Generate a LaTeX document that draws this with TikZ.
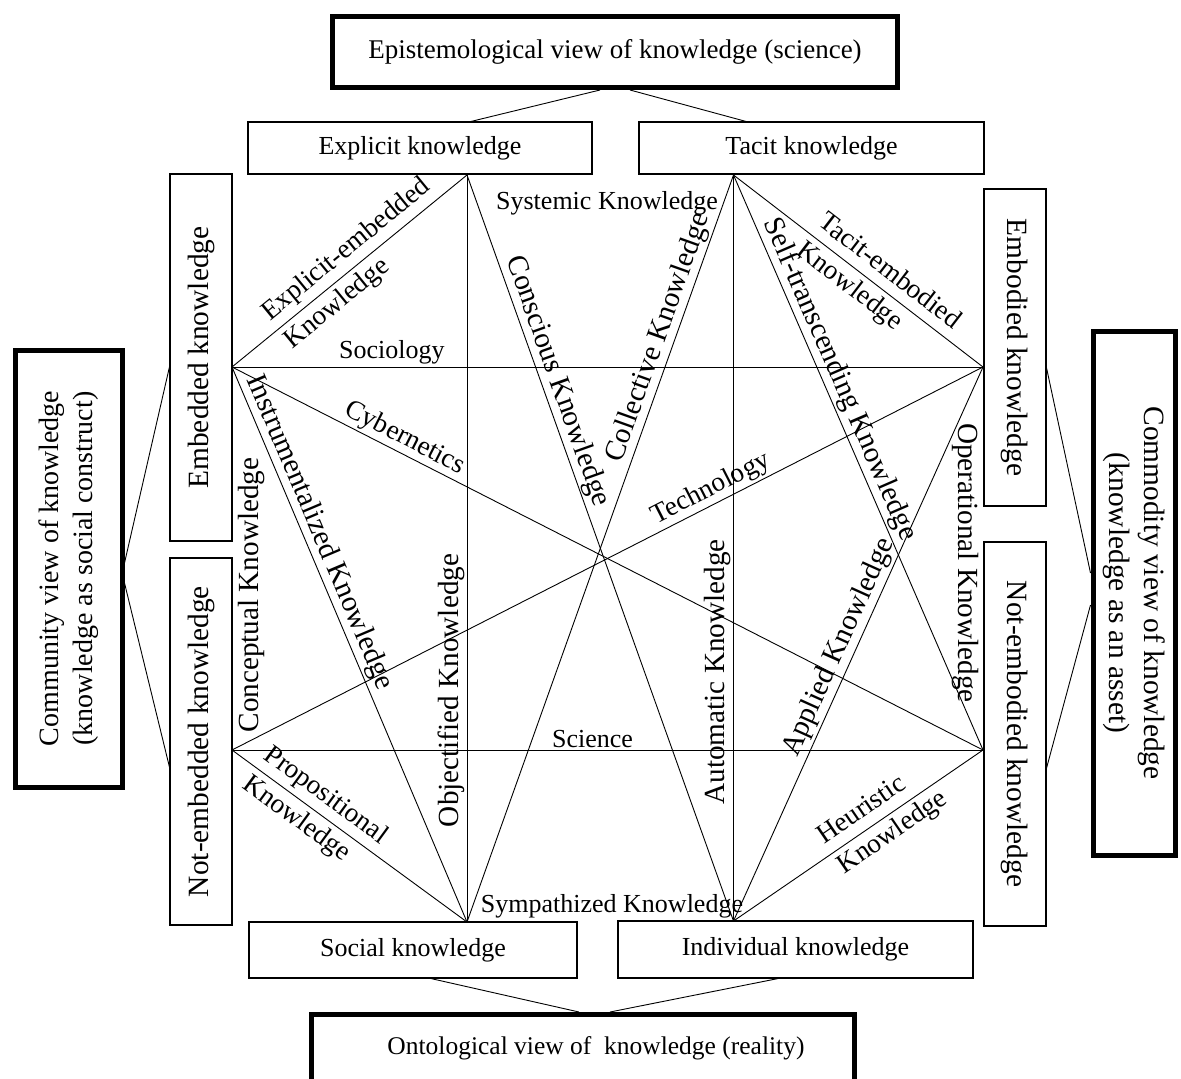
\documentclass[tikz,border=0pt]{standalone}
\usepackage{fontspec}
\setmainfont{Liberation Serif}
\begin{document}
\begin{tikzpicture}[
  x=1pt, y=1pt,
  box/.style={draw, line width=1.1pt, inner sep=0pt, font=\fontsize{26}{30}\selectfont},
  vbox/.style={box, font=\fontsize{29.4}{34}\selectfont},
  viewbox/.style={draw, line width=5pt, inner sep=0pt, align=center},
  link/.style={line width=0.9pt},
  lbl/.style={inner sep=2pt, font=\fontsize{26}{30}\selectfont},
  lblmid/.style={inner sep=2pt, font=\fontsize{27.4}{36}\selectfont},
  lblsteep/.style={inner sep=2pt, font=\fontsize{29.2}{34}\selectfont},
]
\useasboundingbox (0,0) rectangle (1181,-1079);
\clip (0,0) rectangle (1181,-1079);
% four views of knowledge
\node[viewbox, font=\fontsize{27}{32}\selectfont, minimum width=565pt, minimum height=71pt] (epi) at (615,-52) {Epistemological view of knowledge (science)};
\node[viewbox, rotate=90, font=\fontsize{28}{34}\selectfont, minimum width=437pt, minimum height=107pt] (comm) at (68.5,-568.5) {Community view of knowledge\\(knowledge as social construct)};
\node[viewbox, rotate=-90, font=\fontsize{29.4}{35}\selectfont, minimum width=524pt, minimum height=82pt] (cmdt) at (1134,-593) {Commodity view of knowledge\\(knowledge as an asset)};
\node[viewbox, font=\fontsize{25.5}{30}\selectfont, minimum width=543pt, minimum height=67pt] (onto) at (583,-1048) {\hspace*{26pt}Ontological view of\ \ knowledge (reality)};
% kinds of knowledge
\node[box, minimum width=344pt, minimum height=52pt] (expl) at (420,-148) {Explicit knowledge};
\node[box, minimum width=345pt, minimum height=52pt] (tac) at (811.5,-148) {Tacit knowledge};
\node[vbox, rotate=90, minimum width=367pt, minimum height=62pt] (embd) at (201,-357.5) {Embedded knowledge};
\node[vbox, rotate=90, minimum width=367pt, minimum height=62pt] (nemb) at (201,-741.5) {Not-embedded knowledge};
\node[vbox, rotate=-90, minimum width=317pt, minimum height=62pt] (bod) at (1015,-347.5) {Embodied knowledge};
\node[vbox, rotate=-90, minimum width=384pt, minimum height=62pt] (nbod) at (1015,-734) {Not-embodied knowledge};
\node[box, minimum width=328pt, minimum height=56pt] (soc) at (413,-950) {Social knowledge};
\node[box, minimum width=355pt, minimum height=57pt] (ind) at (795.5,-949.5) {Individual knowledge};
\draw[link] ([xshift=-15pt]epi.south) -- ([xshift=51pt]expl.north);
\draw[link] ([xshift=15pt]epi.south) -- ([xshift=-65.5pt]tac.north);
\draw[link] ([yshift=5.5pt]comm.south) -- ([yshift=-9.5pt]embd.north);
\draw[link] ([yshift=-14.5pt]comm.south) -- ([yshift=-25.5pt]nemb.north);
\draw[link] ([yshift=-20.5pt]bod.north) -- ([yshift=20pt]cmdt.south);
\draw[link] ([yshift=-34pt]nbod.north) -- ([yshift=-12pt]cmdt.south);
\draw[link] ([xshift=18pt]soc.south) -- ([xshift=-4pt]onto.north);
\draw[link] ([xshift=-17.5pt]ind.south) -- ([xshift=27pt]onto.north);
% corners of the star
\coordinate (vexp) at (467,-175);
\coordinate (vtac) at (733.5,-175);
\coordinate (vemb) at (232,-367);
\coordinate (vnemb) at (232,-750);
\coordinate (vbod) at (983,-367);
\coordinate (vnbod) at (983,-750);
\coordinate (vsoc) at (467,-922);
\coordinate (vind) at (733.5,-921);
\draw[link] (vemb) -- node[lblmid, sloped, align=left, pos=0.536] {Explicit-embedded\\Knowledge} (vexp);
\draw[link] (vexp) -- node[lblsteep, sloped, above, pos=0.284] {Conscious Knowledge} (vind);
\draw[link] (vexp) -- node[lblsteep, rotate=90, anchor=south, pos=0.69] {Objectified Knowledge} (vsoc);
\draw[link] (vtac) -- node[lblsteep, sloped, above, pos=0.225] {Collective Knowledge} (vsoc);
\draw[link] (vtac) -- node[lblsteep, rotate=90, anchor=south, pos=0.666] {Automatic Knowledge} (vind);
\draw[link] (vtac) -- node[lblsteep, sloped, above, pos=0.367] {Self-transcending Knowledge} (vnbod);
\draw[link] (vtac) -- node[lblmid, sloped, align=left, pos=0.58] {Tacit-embodied\\Knowledge} (vbod);
\draw[link] (vemb) -- node[lbl, above, pos=0.213] {Sociology} (vbod);
\draw[link] (vemb) -- node[lblmid, sloped, above, pos=0.221] {Cybernetics} (vnbod);
\draw[link] (vemb) -- node[lblsteep, sloped, above, pos=0.31] {Instrumentalized Knowledge} (vsoc);
\draw[link] (vnemb) -- node[lblmid, sloped, above, pos=0.647] {Technology} (vbod);
\draw[link] (vnemb) -- node[lbl, above, pos=0.48] {Science} (vnbod);
\draw[link] (vnemb) -- node[lblmid, sloped, align=left, pos=0.353] {Propositional\\Knowledge} (vsoc);
\draw[link] (vind) -- node[lblsteep, sloped, above, pos=0.482] {Applied Knowledge} (vbod);
\draw[link] (vind) -- node[lblmid, sloped, align=left, pos=0.6] {Heuristic\\Knowledge} (vnbod);
\node[lbl] (sys) at (607,-203) {Systemic Knowledge};
\node[lbl] (sym) at (612,-906) {Sympathized Knowledge};
\node[lblsteep, rotate=90] (conc) at (252,-595) {Conceptual Knowledge};
\node[lblsteep, rotate=-90] (oper) at (965,-563) {Operational Knowledge};
\end{tikzpicture}
\end{document}
